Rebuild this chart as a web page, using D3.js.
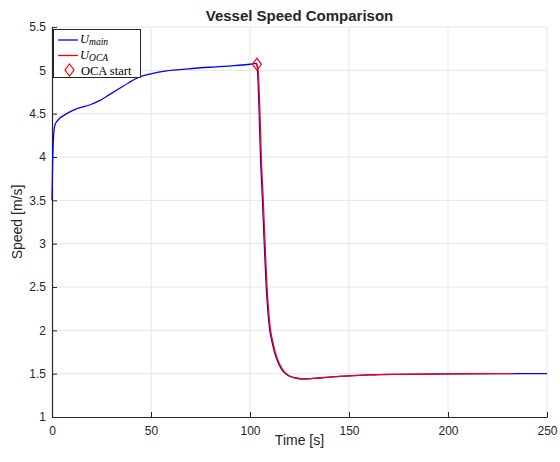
<!DOCTYPE html>
<html>
<head>
<meta charset="utf-8">
<title>Vessel Speed Comparison</title>
<script src="https://cdn.jsdelivr.net/npm/d3@7"></script>
<style>
  body { margin: 0; background: #fff; }
  text { font-family: "Liberation Sans", Arial, Helvetica, sans-serif; fill: #262626; }
  .grid line { stroke: #e5e5e5; stroke-width: 1px; }
  .axis path, .axis line { stroke: #262626; }
  .legend text { font-family: "Liberation Serif", "DejaVu Serif", serif; fill: #000; }
</style>
</head>
<body>
<div id="chart"></div>
<script>
// main controller speed [time s, speed m/s]
var mainTime = [0, 0.3, 0.6, 1, 1.5, 2.5, 4, 6, 9, 13, 19, 24, 29, 34, 39, 44, 50, 57, 66, 75, 83, 92, 100, 103.3,
  103.8, 104.5, 105.3, 106.3, 107.2, 108.2, 109.1, 110, 111, 112, 113, 114, 115, 116, 117, 118, 120, 123, 127, 132, 140, 150, 160, 175, 200, 225, 250];
var mainSpeed = [3.5, 3.9, 4.15, 4.3, 4.37, 4.41, 4.45, 4.48, 4.52, 4.56, 4.6, 4.65, 4.72, 4.79, 4.86, 4.92, 4.96, 4.99, 5.01, 5.03, 5.04, 5.055, 5.07, 5.08,
  5.0, 4.6, 4.0, 3.5, 3.0, 2.5, 2.2, 2.0, 1.88, 1.78, 1.7, 1.64, 1.59, 1.55, 1.52, 1.5, 1.47, 1.45, 1.438, 1.445, 1.46, 1.475, 1.485, 1.492, 1.498, 1.5, 1.5];

// OCA speed
var ocaTime = [103.5, 104.1, 104.9, 105.7, 106.7, 107.6, 108.6, 109.5, 110.4, 111.4, 112.4, 113.4, 114.4, 115.4, 116.4, 117.4, 118.4, 120.4, 123.4, 127.4,
  132, 140, 150, 160, 175, 200, 233];
var ocaSpeed = [5.07, 5.0, 4.6, 4.0, 3.5, 3.0, 2.5, 2.2, 2.0, 1.88, 1.78, 1.7, 1.64, 1.59, 1.55, 1.52, 1.5, 1.47, 1.45, 1.44,
  1.445, 1.46, 1.475, 1.485, 1.492, 1.498, 1.5];

var ocaStart = [103.5, 5.07];

var xTicks = [0, 50, 100, 150, 200, 250];
var yTicks = [1, 1.5, 2, 2.5, 3, 3.5, 4, 4.5, 5, 5.5];

var width = 560, height = 462;
var margin = {left: 52, right: 13, top: 27, bottom: 45};

var svg = d3.select("#chart").append("svg")
  .attr("width", width)
  .attr("height", height);

var x = d3.scaleLinear().domain([0, 250]).range([margin.left, width - margin.right]);
var y = d3.scaleLinear().domain([1, 5.5]).range([height - margin.bottom, margin.top]);

// grid
var grid = svg.append("g").attr("class", "grid");
grid.selectAll(".gx").data(xTicks.slice(1)).enter().append("line")
  .attr("x1", function(d) { return x(d); }).attr("x2", function(d) { return x(d); })
  .attr("y1", y(1)).attr("y2", y(5.5));
grid.selectAll(".gy").data(yTicks.slice(1)).enter().append("line")
  .attr("x1", x(0)).attr("x2", x(250))
  .attr("y1", function(d) { return y(d); }).attr("y2", function(d) { return y(d); });

// axes, ticks pointing inward like matlab
var xAxis = svg.append("g").attr("class", "axis")
  .attr("transform", "translate(0," + y(1) + ")")
  .call(d3.axisBottom(x).tickValues(xTicks).tickSizeInner(-5).tickSizeOuter(0).tickPadding(9));
var yAxis = svg.append("g").attr("class", "axis")
  .attr("transform", "translate(" + x(0) + ",0)")
  .call(d3.axisLeft(y).tickValues(yTicks).tickSizeInner(-5).tickSizeOuter(0).tickPadding(6).tickFormat(d3.format("")));
svg.selectAll(".axis text").style("font-size", "12px").attr("fill", "#262626")
  .style("font-family", '"Liberation Sans", Arial, sans-serif');
svg.selectAll(".axis path").attr("stroke-width", 1.2);

var line = d3.line()
  .x(function(d) { return x(d[0]); })
  .y(function(d) { return y(d[1]); })
  .curve(d3.curveMonotoneX);

var mainData = mainTime.map(function(t, i) { return [t, mainSpeed[i]]; });
var ocaData = ocaTime.map(function(t, i) { return [t, ocaSpeed[i]]; });

svg.append("path").datum(mainData)
  .attr("d", line).attr("fill", "none").attr("stroke", "#0000ff").attr("stroke-width", 1.3);
svg.append("path").datum(ocaData)
  .attr("d", line).attr("fill", "none").attr("stroke", "#ff0000").attr("stroke-width", 1.3);

function diamond(cx, cy) {
  return "M" + cx + "," + (cy - 6) + "L" + (cx + 4.5) + "," + cy + "L" + cx + "," + (cy + 6) + "L" + (cx - 4.5) + "," + cy + "Z";
}
svg.append("path").attr("d", diamond(x(ocaStart[0]), y(ocaStart[1])))
  .attr("fill", "none").attr("stroke", "#ff0000").attr("stroke-width", 1.2);

// title and labels
svg.append("text").attr("x", (x(0) + x(250)) / 2).attr("y", 21)
  .attr("text-anchor", "middle").style("font-size", "15px").style("font-weight", "bold").attr("fill", "#000")
  .text("Vessel Speed Comparison");
svg.append("text").attr("x", (x(0) + x(250)) / 2).attr("y", 445)
  .attr("text-anchor", "middle").style("font-size", "14px")
  .text("Time [s]");
svg.append("text").attr("transform", "translate(22," + ((y(1) + y(5.5)) / 2) + ") rotate(-90)")
  .attr("text-anchor", "middle").style("font-size", "14px")
  .text("Speed [m/s]");

// legend
var lg = svg.append("g").attr("class", "legend");
lg.append("rect").attr("x", 53.5).attr("y", 29.5).attr("width", 87).attr("height", 48)
  .attr("fill", "#fff").attr("stroke", "#262626").attr("stroke-width", 1);
var entries = [
  {name: "U", sub: "main", color: "#0000ff", type: "line", y: 40},
  {name: "U", sub: "OCA", color: "#ff0000", type: "line", y: 55.5},
  {name: "OCA start", color: "#ff0000", type: "marker", y: 70}
];
entries.forEach(function(e) {
  if (e.type === "line") {
    lg.append("line").attr("x1", 58).attr("x2", 78).attr("y1", e.y).attr("y2", e.y)
      .attr("stroke", e.color).attr("stroke-width", 1.3);
    var t = lg.append("text").attr("x", 80).attr("y", e.y + 3).style("font-size", "12.5px");
    t.append("tspan").style("font-style", "italic").text(e.name);
    t.append("tspan").attr("dy", 2).style("font-style", "italic").style("font-size", "9.5px").text(e.sub);
  } else {
    lg.append("path").attr("d", diamond(69.5, e.y)).attr("fill", "none")
      .attr("stroke", e.color).attr("stroke-width", 1.2);
    lg.append("text").attr("x", 81).attr("y", e.y + 4.5).style("font-size", "12.5px").text(e.name);
  }
});
</script>
</body>
</html>
